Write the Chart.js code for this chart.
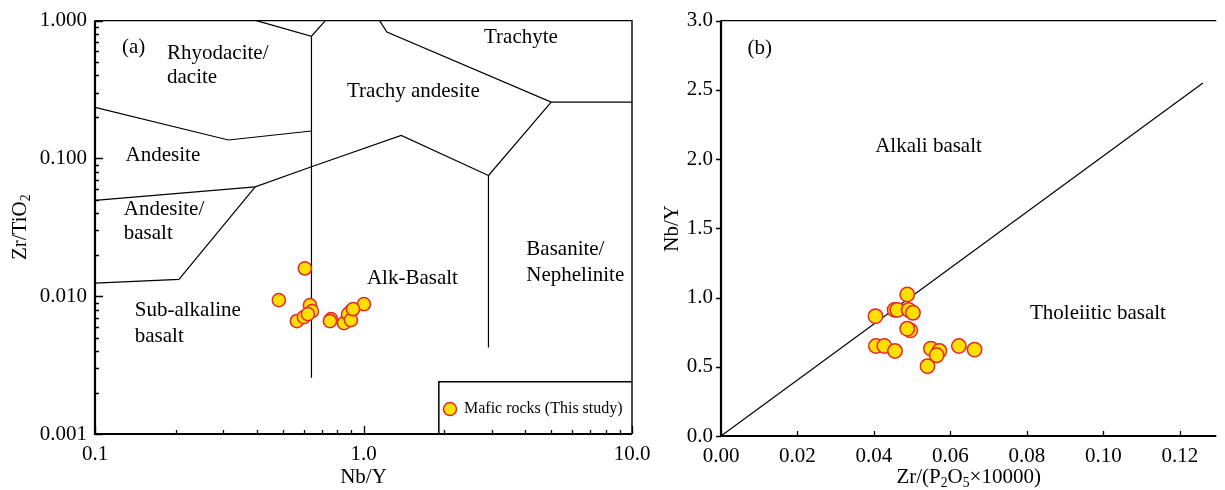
<!DOCTYPE html>
<html>
<head>
<meta charset="utf-8">
<title>Nb/Y discrimination diagrams</title>
<script src="https://cdn.jsdelivr.net/npm/chart.js@4"></script>
<style>
  html, body { margin: 0; padding: 0; background: #fff; overflow: hidden; }
  #wrap { position: relative; width: 1225px; height: 490px; }
  #boxA { position: absolute; left: 0; top: 0; width: 680px; height: 490px; }
  #boxB { position: absolute; left: 640px; top: 0; width: 585px; height: 490px; }
</style>
</head>
<body>
<div id="wrap">
  <div id="boxA"><canvas id="chartA"></canvas></div>
  <div id="boxB"><canvas id="chartB"></canvas></div>
</div>
<script>
// (a) Zr/TiO2 vs Nb/Y, mafic rocks
const nbY_a  = [0.605, 0.484, 0.632, 0.643, 0.565, 0.600, 0.621, 0.757, 0.750, 0.846, 0.898, 0.876, 0.898, 1.004, 0.914];
const zrTi_a = [0.0159, 0.00936, 0.00861, 0.00779, 0.0066, 0.00705, 0.00741, 0.00682, 0.0066, 0.00638, 0.00779, 0.00741, 0.00671, 0.00875, 0.00805];

// (b) Nb/Y vs Zr/(P2O5 x 10000)
const zrP_b = [0.0404, 0.0487, 0.0454, 0.0461, 0.0491, 0.0502, 0.0495, 0.0487, 0.0405, 0.0427, 0.0455, 0.0549, 0.0571, 0.0564, 0.0540, 0.0622, 0.0663];
const nbY_b = [0.865, 1.022, 0.911, 0.911, 0.911, 0.890, 0.763, 0.775, 0.650, 0.650, 0.614, 0.631, 0.614, 0.583, 0.504, 0.650, 0.624];

// field boundaries of the Winchester & Floyd diagram [Nb/Y, Zr/TiO2]
const rhyoTop     = [[0.399, 1.0], [0.640, 0.770], [0.721, 1.0]];
const nbY064      = [[0.640, 0.770], [0.640, 0.00256]];
const trachyteLow = [[1.148, 1.0], [1.222, 0.826], [5.0, 0.256], [10, 0.256]];
const basaniteL   = [[5.0, 0.256], [2.92, 0.0751], [2.92, 0.00424]];
const alkTop      = [[2.92, 0.0751], [1.382, 0.147], [0.640, 0.087], [0.395, 0.0621], [0.1, 0.0496]];
const andesiteTop = [[0.1, 0.2346], [0.314, 0.136], [0.640, 0.158]];
const subAlkTop   = [[0.395, 0.0621], [0.2054, 0.01324], [0.1, 0.01245]];
const legendFrame = [[1.908, 0.001], [1.908, 0.00239], [10, 0.00239]];

// alkali / tholeiitic divide
const divideLine = [[0, 0], [0.126, 2.55]];

const ticksA_x = [0.1, 1, 10];
const ticksA_y = [0.001, 0.01, 0.1, 1];
const ticksB_x = [0, 0.02, 0.04, 0.06, 0.08, 0.10, 0.12];
const ticksB_y = [0, 0.5, 1.0, 1.5, 2.0, 2.5, 3.0];

const FAMILY = '"Liberation Serif", "Times New Roman", serif';
const serif = size => size + 'px ' + FAMILY;
const tickFont = { family: FAMILY, size: 21 };

const pts = (xs, ys) => xs.map((x, i) => ({ x: x, y: ys[i] }));
const seg = arr => arr.map(p => ({ x: p[0], y: p[1] }));

function lineSet(arr, width) {
  return { data: seg(arr), showLine: true, borderColor: '#000', borderWidth: width || 1.2, pointRadius: 0, fill: false };
}

// text with optional subscripts: parts = [['Zr/TiO'], ['2', true]]
function drawRich(ctx, parts, x, y, size, align) {
  let w = 0;
  parts.forEach(p => { ctx.font = serif(p[1] ? size * 0.65 : size); w += ctx.measureText(p[0]).width; });
  let cx = align === 'center' ? x - w / 2 : x;
  ctx.textAlign = 'left';
  ctx.textBaseline = 'middle';
  parts.forEach(p => {
    ctx.font = serif(p[1] ? size * 0.65 : size);
    ctx.fillText(p[0], cx, y + (p[1] ? size * 0.3 : 0));
    cx += ctx.measureText(p[0]).width;
  });
}

// axis frame, inward/outward ticks, titles and field names
function framePlugin(o) {
  return {
    id: 'frame',
    afterDatasetsDraw(chart) {
      const { ctx, chartArea: a, scales: { x, y } } = chart;
      ctx.save();
      ctx.strokeStyle = '#000';
      ctx.fillStyle = '#000';

      ctx.lineWidth = 1.4;
      ctx.beginPath();
      ctx.moveTo(a.left, a.top);
      ctx.lineTo(a.right, a.top);
      if (o.rightBorder) ctx.lineTo(a.right, a.bottom);
      ctx.stroke();
      ctx.lineWidth = 2.2;
      ctx.beginPath();
      ctx.moveTo(a.left, a.top);
      ctx.lineTo(a.left, a.bottom);
      ctx.lineTo(a.right, a.bottom);
      ctx.stroke();

      ctx.lineWidth = 1.3;
      ctx.beginPath();
      o.xTicks.forEach(t => {
        const px = Math.round(x.getPixelForValue(t[0])) + 0.5;
        ctx.moveTo(px, a.bottom);
        ctx.lineTo(px, a.bottom - t[1]);
      });
      o.yTicks.forEach(t => {
        const py = Math.round(y.getPixelForValue(t[0])) + 0.5;
        ctx.moveTo(a.left, py);
        ctx.lineTo(a.left + t[1], py);
      });
      ctx.stroke();

      // axis titles
      drawRich(ctx, o.xTitle, (a.left + a.right) / 2 + (o.xTitleShift || 0), 477, 21, 'center');
      ctx.save();
      ctx.translate(o.yTitleX, (a.top + a.bottom) / 2);
      ctx.rotate(-Math.PI / 2);
      drawRich(ctx, o.yTitle, 0, 0, 21, 'center');
      ctx.restore();

      // field names
      o.labels.forEach(l => {
        drawRich(ctx, [[l.t]], x.getPixelForValue(l.x), y.getPixelForValue(l.y), l.size || 21, 'left');
      });

      if (o.legend) {
        const lg = o.legend;
        const cx = x.getPixelForValue(lg.x), cy = y.getPixelForValue(lg.y);
        ctx.beginPath();
        ctx.arc(cx, cy, 6.5, 0, Math.PI * 2);
        ctx.fillStyle = '#FFE000';
        ctx.fill();
        ctx.lineWidth = 1.5;
        ctx.strokeStyle = '#E8262B';
        ctx.stroke();
        ctx.fillStyle = '#000';
        drawRich(ctx, [[lg.text]], x.getPixelForValue(lg.tx), cy, 16, 'left');
      }
      ctx.restore();
    }
  };
}

function axisOpts(type, min, max, tickList, fmt, fit) {
  return {
    type: type, min: min, max: max,
    afterBuildTicks: s => { s.ticks = tickList.map(v => ({ value: v })); },
    afterFit: fit,
    ticks: { font: tickFont, color: '#000', padding: 8, autoSkip: false, maxRotation: 0, callback: v => Number(v).toFixed(fmt) },
    grid: { display: false, drawTicks: false },
    border: { display: false }
  };
}

// minor ticks on the log axes
function logTicks(decades) {
  const out = [];
  decades.forEach((d, i) => {
    out.push([d, 8]);
    if (i < decades.length - 1) for (let k = 2; k <= 9; k++) out.push([d * k, 4]);
  });
  return out;
}

const pointStyle = { backgroundColor: '#FFE000', borderColor: '#E8262B', borderWidth: 1.5 };

new Chart(document.getElementById('chartA'), {
  type: 'scatter',
  data: {
    datasets: [
      Object.assign({ data: pts(nbY_a, zrTi_a), pointRadius: 6.6 }, pointStyle),
      lineSet(rhyoTop), lineSet(nbY064), lineSet(trachyteLow), lineSet(basaniteL),
      lineSet(alkTop), lineSet(andesiteTop), lineSet(subAlkTop), lineSet(legendFrame, 1.5)
    ]
  },
  options: {
    responsive: true,
    maintainAspectRatio: false,
    animation: false,
    layout: { padding: { top: 19, right: 48, left: 0, bottom: 0 } },
    plugins: { legend: { display: false }, tooltip: { enabled: false } },
    scales: {
      x: axisOpts('logarithmic', 0.1, 10, ticksA_x, 1, s => { s.height = 56; }),
      y: axisOpts('logarithmic', 0.001, 1, ticksA_y, 3, s => { s.width = 95; })
    }
  },
  plugins: [framePlugin({
    rightBorder: true,
    xTicks: logTicks(ticksA_x),
    yTicks: logTicks(ticksA_y),
    xTitle: [['Nb/Y']],
    yTitle: [['Zr/TiO'], ['2', true]],
    yTitleX: 20,
    labels: [
      { t: '(a)', x: 0.126, y: 0.638 },
      { t: 'Rhyodacite/', x: 0.1854, y: 0.578 },
      { t: 'dacite', x: 0.1854, y: 0.388 },
      { t: 'Trachyte', x: 2.81, y: 0.754 },
      { t: 'Trachy andesite', x: 0.868, y: 0.305 },
      { t: 'Andesite', x: 0.130, y: 0.1053 },
      { t: 'Andesite/', x: 0.128, y: 0.0428 },
      { t: 'basalt', x: 0.128, y: 0.0285 },
      { t: 'Basanite/', x: 4.04, y: 0.02196 },
      { t: 'Nephelinite', x: 4.04, y: 0.01402 },
      { t: 'Alk-Basalt', x: 1.03, y: 0.01355 },
      { t: 'Sub-alkaline', x: 0.1406, y: 0.00786 },
      { t: 'basalt', x: 0.1406, y: 0.00514 }
    ],
    legend: { x: 2.10, y: 0.001516, tx: 2.367, text: 'Mafic rocks (This study)' }
  })]
});

new Chart(document.getElementById('chartB'), {
  type: 'scatter',
  data: {
    datasets: [
      Object.assign({ data: pts(zrP_b, nbY_b), pointRadius: 7.2 }, pointStyle),
      lineSet(divideLine)
    ]
  },
  options: {
    responsive: true,
    maintainAspectRatio: false,
    animation: false,
    layout: { padding: { top: 19, right: 1, left: 0, bottom: 0 } },
    plugins: { legend: { display: false }, tooltip: { enabled: false } },
    scales: {
      x: axisOpts('linear', 0, 0.1295, ticksB_x, 2, s => { s.height = 54; }),
      y: axisOpts('linear', 0, 3, ticksB_y, 1, s => { s.width = 81; })
    }
  },
  plugins: [framePlugin({
    rightBorder: false,
    xTicks: ticksB_x.map(v => [v, 5]),
    yTicks: ticksB_y.map(v => [v, -5]),
    xTitle: [['Zr/(P'], ['2', true], ['O'], ['5', true], ['\u00d710000)']],
    xTitleShift: 0,
    yTitle: [['Nb/Y']],
    yTitleX: 32,
    labels: [
      { t: '(b)', x: 0.00695, y: 2.802 },
      { t: 'Alkali basalt', x: 0.0403, y: 2.088 },
      { t: 'Tholeiitic basalt', x: 0.0808, y: 0.885 }
    ]
  })]
});
</script>
</body>
</html>
